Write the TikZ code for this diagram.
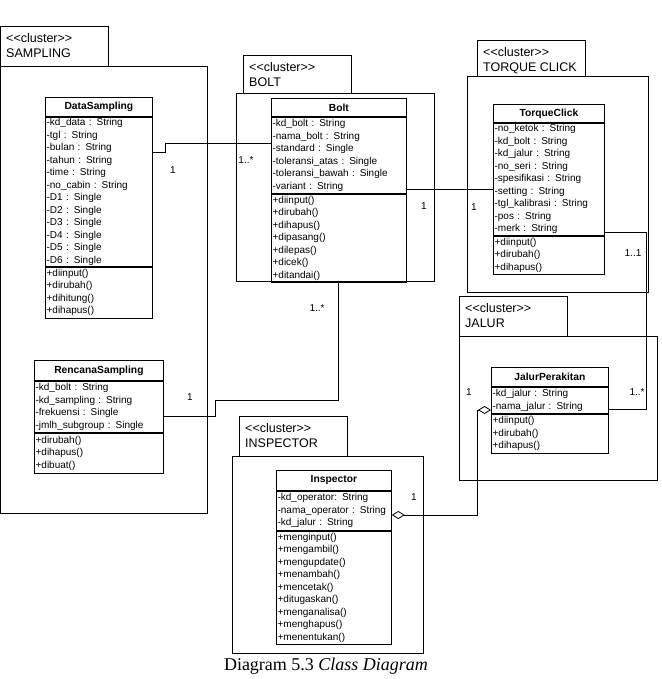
\documentclass[tikz,border=0pt]{standalone}
\usepackage{fontspec}
\setmainfont{Liberation Serif}
\newfontfamily\umlfont{Liberation Sans}
\usetikzlibrary{arrows.meta}

\tikzset{
  pkg/.style={draw, line width=0.9pt},
  pkgtxt/.style={anchor=north west, align=left, inner sep=0pt, font=\umlfont\fontsize{12.5}{15}\selectfont},
  chead/.style 2 args={draw, line width=0.8pt, anchor=north west, minimum width=#1, minimum height=#2, inner sep=0pt, font=\umlfont\bfseries\fontsize{10.3}{12}\selectfont},
  cpart/.style 2 args={draw, line width=0.8pt, anchor=north west, minimum width=#1, text width=#1-2.4pt, minimum height=#2, inner xsep=1.2pt, inner ysep=1pt, align=left, font=\umlfont\fontsize{10}{12.5}\selectfont},
  conn/.style={draw, line width=0.8pt},
  mult/.style={font=\umlfont\fontsize{10}{12}\selectfont, inner sep=0pt},
  agg/.style={conn, {Diamond[open,length=13pt,width=8pt]}-{Diamond[open,length=13pt,width=8pt]}},
}

\begin{document}
\begin{tikzpicture}[x=1pt,y=-1pt]
\useasboundingbox (0,0) rectangle (661,679);

% ---------- packages ----------
% SAMPLING
\draw[pkg] (0.5,26) rectangle (108,66);
\draw[pkg] (0.5,66) rectangle (207,513);
\node[pkgtxt] (psam) at (6,33.5) {<{}<cluster>{}>\\SAMPLING};
% BOLT
\draw[pkg] (243,55) rectangle (351,93);
\draw[pkg] (236,93) rectangle (434,281);
\node[pkgtxt] (pbolt) at (249,62.5) {<{}<cluster>{}>\\BOLT};
% TORQUE CLICK
\draw[pkg] (477,40) rectangle (585,76);
\draw[pkg] (467,76) rectangle (648,292);
\node[pkgtxt] (ptc) at (483,47.5) {<{}<cluster>{}>\\TORQUE CLICK};
% JALUR
\draw[pkg] (459,296) rectangle (567,336);
\draw[pkg] (459,336) rectangle (657,480);
\node[pkgtxt] (pjal) at (465,303.5) {<{}<cluster>{}>\\JALUR};
% INSPECTOR
\draw[pkg] (239,416) rectangle (347,456);
\draw[pkg] (232,456) rectangle (423,653);
\node[pkgtxt] (pins) at (245,423.5) {<{}<cluster>{}>\\INSPECTOR};

% ---------- classes ----------
% DataSampling
\node[chead={107pt}{19pt}, fill=white] (ds) at (45,97) {DataSampling};
\node[cpart={107pt}{149pt}] (dsa) at (ds.south west) {-kd\_data : String\\-tgl : String\\-bulan : String\\-tahun : String\\-time : String\\-no\_cabin : String\\-D1 : Single\\-D2 : Single\\-D3 : Single\\-D4 : Single\\-D5 : Single\\-D6 : Single};
\node[cpart={107pt}{51pt}] (dsm) at (dsa.south west) {+diinput()\\+dirubah()\\+dihitung()\\+dihapus()};

% RencanaSampling
\node[chead={129pt}{20pt}] (rs) at (34,360) {RencanaSampling};
\node[cpart={129pt}{51pt}] (rsa) at (rs.south west) {-kd\_bolt : String\\-kd\_sampling : String\\-frekuensi : Single\\-jmlh\_subgroup : Single};
\node[cpart={129pt}{40pt}] (rsm) at (rsa.south west) {+dirubah()\\+dihapus()\\+dibuat()};

% Bolt
\node[chead={135pt}{18pt}] (bo) at (271,98) {Bolt};
\node[cpart={135pt}{76pt}] (boa) at (bo.south west) {-kd\_bolt : String\\-nama\_bolt : String\\-standard : Single\\-toleransi\_atas : Single\\-toleransi\_bawah : Single\\-variant : String};
\node[cpart={135pt}{88pt}] (bom) at (boa.south west) {+diinput()\\+dirubah()\\+dihapus()\\+dipasang()\\+dilepas()\\+dicek()\\+ditandai()};

% TorqueClick
\node[chead={111pt}{18pt}] (tc) at (493,104) {TorqueClick};
\node[cpart={111pt}{112pt}] (tca) at (tc.south west) {-no\_ketok : String\\-kd\_bolt : String\\-kd\_jalur : String\\-no\_seri : String\\-spesifikasi : String\\-setting : String\\-tgl\_kalibrasi : String\\-pos : String\\-merk : String};
\node[cpart={111pt}{38pt}] (tcm) at (tca.south west) {+diinput()\\+dirubah()\\+dihapus()};

% JalurPerakitan
\node[chead={117pt}{19pt}] (jp) at (491,367) {JalurPerakitan};
\node[cpart={117pt}{26pt}] (jpa) at (jp.south west) {-kd\_jalur : String\\-nama\_jalur : String};
\node[cpart={117pt}{39pt}] (jpm) at (jpa.south west) {+diinput()\\+dirubah()\\+dihapus()};

% Inspector
\node[chead={115pt}{20pt}] (in) at (276,470) {Inspector};
\node[cpart={115pt}{39pt}] (ina) at (in.south west) {-kd\_operator: String\\-nama\_operator : String\\-kd\_jalur : String};
\node[cpart={115pt}{113pt}] (inm) at (ina.south west) {+menginput()\\+mengambil()\\+mengupdate()\\+menambah()\\+mencetak()\\+ditugaskan()\\+menganalisa()\\+menghapus()\\+menentukan()};

% ---------- connectors ----------
\draw[conn] (dsa.east |- 0,152) -- (165,152) |- (boa.west |- 0,143);
\draw[conn] (boa.east |- 0,189) -- (tca.west |- 0,189);
\draw[conn] (bom.south -| 338,0) -- (338,400) -| (215,416) -- (rsa.east |- 0,416);
\draw[conn] (tca.east |- 0,232) -- (646,232) |- (jpa.east |- 0,409);
\draw[agg] (ina.east |- 0,515) -- (477,515) |- (jpa.west |- 0,410);

% ---------- multiplicities ----------
\node[mult] (m1) at (173,170) {1};
\node[mult] (m2) at (246,160) {1..*};
\node[mult] (m3) at (424,206) {1};
\node[mult] (m4) at (474,207) {1};
\node[mult] (m5) at (317,308) {1..*};
\node[mult] (m6) at (190,397) {1};
\node[mult] (m7) at (633,253) {1..1};
\node[mult] (m8) at (637,392) {1..*};
\node[mult] (m9) at (469,392) {1};
\node[mult] (m10) at (414,497) {1};

% ---------- caption ----------
\node[font=\fontsize{18}{22}\selectfont, inner sep=0pt] (cap) at (326,666) {Diagram 5.3 \textit{Class Diagram}};
\end{tikzpicture}
\end{document}
